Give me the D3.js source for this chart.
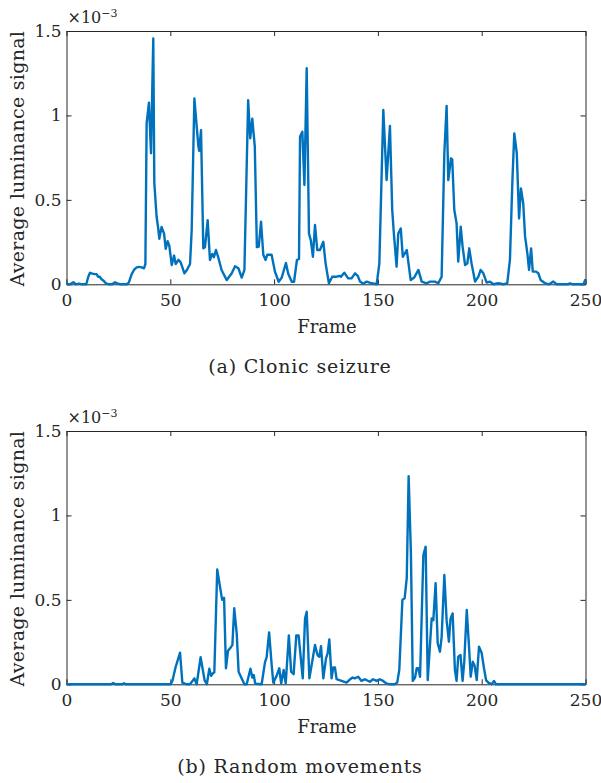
<!DOCTYPE html>
<html>
<head>
<meta charset="utf-8">
<script src="https://cdn.jsdelivr.net/npm/d3@7/dist/d3.min.js"></script>
<style>
  body { margin: 0; background: #fff; }
  svg text { font-family: "DejaVu Serif", serif; fill: #262626; }
</style>
</head>
<body>
<svg id="chart" width="601" height="783"></svg>
<script>
// Frame axis and value axis (values are in units of 1e-3)
var xTicks = [0, 50, 100, 150, 200, 250];
var yTicks = [0, 0.5, 1, 1.5];
var yTickLabels = ["0", "0.5", "1", "1.5"];

// (a) Clonic seizure
var clonicFrames = [0, 1, 2, 3.3, 4.5, 6, 7.5, 9.5, 10.5, 11.3, 12.5, 13.5, 14.5, 15.2, 16, 16.9, 18, 19, 20.5, 22, 23.4, 24.5, 26, 29, 30, 31.4, 32.5, 33.8, 35, 36.2, 37.3, 38, 38.6, 39.7, 40.7, 41.8, 42.3, 43.4, 44.2, 44.7, 45.8, 47, 47.8, 48.7, 49.5, 50.7, 51.8, 52.6, 53.9, 55, 56.8, 58, 59.5, 60.3, 61.6, 63.5, 63.9, 64.8, 65.9, 66.7, 68, 69.1, 70.2, 71, 72, 73.1, 74.7, 77.2, 79.6, 81.2, 82.8, 84.4, 85.7, 87.5, 88.5, 89.5, 90.7, 91.7, 92.6, 93.7, 94.8, 95.9, 96.7, 98.8, 100.4, 102.2, 103.7, 105.7, 106.8, 108.5, 109.6, 111, 112, 112.5, 113.6, 114.6, 115.7, 116.8, 117.7, 118.7, 119.7, 120.8, 122.1, 123.7, 124.8, 126.4, 128, 130.1, 131.7, 132.2, 133.8, 135.7, 137.3, 139, 140.3, 141.4, 143, 144.6, 147, 149.4, 150.7, 152.6, 154.2, 155.8, 156.9, 157.7, 159, 159.8, 161, 162, 163.9, 165.8, 167.5, 169.5, 171.1, 173.5, 175.1, 177.5, 179.1, 180.7, 182, 183.1, 183.9, 185.2, 185.8, 186.8, 187.9, 188.7, 189.9, 190.8, 192, 193.1, 194, 195.1, 196.8, 198.4, 199.5, 200.8, 202.4, 204, 205.6, 208, 210.4, 212.3, 213.6, 214.8, 215.7, 216.9, 218, 218.9, 220, 220.9, 222, 222.8, 223.8, 224.6, 226.2, 227.3, 228.4, 230.5, 232.5, 234.5, 236.1, 241.7, 242.5, 244, 249, 250];
var clonicValues = [0.005, 0, 0.003, 0.012, 0, 0.004, 0, 0, 0.045, 0.068, 0.063, 0.06, 0.06, 0.045, 0.045, 0.03, 0.02, 0.005, 0, 0, 0.012, 0.005, 0, 0, 0.01, 0.06, 0.085, 0.1, 0.103, 0.1, 0.095, 0.12, 0.953, 1.075, 0.776, 1.456, 0.6, 0.4, 0.33, 0.27, 0.34, 0.3, 0.21, 0.255, 0.23, 0.114, 0.17, 0.12, 0.145, 0.13, 0.065, 0.085, 0.12, 0.32, 1.1, 0.82, 0.79, 0.913, 0.213, 0.22, 0.38, 0.144, 0.18, 0.16, 0.203, 0.16, 0.085, 0.025, 0.065, 0.107, 0.095, 0.04, 0.085, 1.09, 0.864, 0.98, 0.815, 0.22, 0.223, 0.37, 0.175, 0.144, 0.175, 0.175, 0.075, 0.015, 0.04, 0.126, 0.062, 0.015, 0.015, 0.144, 0.15, 0.874, 0.904, 0.588, 1.279, 0.3, 0.26, 0.163, 0.351, 0.203, 0.203, 0.252, 0.124, 0.006, 0.045, 0.045, 0.05, 0.045, 0.069, 0.035, 0.035, 0.065, 0.05, 0.016, 0.003, 0.016, 0.006, 0, 0.124, 1.032, 0.617, 0.937, 0.44, 0.3, 0.104, 0.3, 0.331, 0.163, 0.203, 0.025, 0.04, 0.085, 0.016, 0.006, 0.016, 0.016, 0.006, 0.045, 0.776, 1.056, 0.617, 0.746, 0.74, 0.44, 0.361, 0.134, 0.341, 0.223, 0.114, 0.124, 0.213, 0.124, 0.016, 0.045, 0.085, 0.065, 0.01, 0.016, 0, 0.006, 0, 0.006, 0.144, 0.617, 0.894, 0.776, 0.39, 0.568, 0.48, 0.282, 0.183, 0.085, 0.213, 0.075, 0.075, 0.065, 0.025, 0.006, 0, 0.016, 0, 0, 0.006, 0, 0, 0.03];

// (b) Random movements
var randomFrames = [0, 21.5, 22.5, 23.5, 27, 27.7, 28.5, 50.2, 51, 52.6, 54.7, 55.8, 57.9, 59.5, 61.6, 62.7, 64.6, 66.5, 67.6, 68.8, 69.7, 70.5, 71.2, 72.6, 74.3, 75, 75.9, 76.8, 77.8, 79.2, 79.9, 80.8, 82, 82.9, 84.4, 85.7, 86.8, 88.6, 89.5, 90.2, 90.9, 94, 95.6, 96.4, 97.6, 98.8, 99.6, 101.2, 102.5, 103.4, 104.6, 105.6, 107.1, 108.2, 109.4, 110.7, 111.8, 113.8, 114.9, 115.7, 117, 119.7, 120.9, 121.8, 122.6, 123.7, 125, 125.8, 126.6, 127.7, 128.5, 129.3, 130.1, 132.5, 134.9, 136.2, 137.8, 138.9, 140.5, 142.1, 143.7, 146.1, 147.7, 149.3, 150.9, 152.5, 154.1, 155.7, 158.1, 159.3, 160.3, 161.8, 162.9, 163.9, 164.8, 165.9, 166.8, 167.9, 168.7, 169.5, 170.3, 171.9, 173, 174, 175.9, 176.7, 177.8, 178.8, 179.9, 180.7, 182, 183.1, 184.2, 185, 186, 187.1, 187.9, 188.7, 189.8, 190.8, 191.6, 192.8, 193.9, 194.7, 195.7, 196.6, 197.6, 198.7, 200, 201.1, 202.1, 203.2, 204.8, 205.9, 206.9, 250];
var randomValues = [0, 0, 0.008, 0, 0, 0.006, 0, 0, 0.02, 0.104, 0.187, 0.01, 0, 0, 0.035, 0, 0.16, 0.025, 0, 0.092, 0.05, 0.065, 0.07, 0.68, 0.55, 0.5, 0.512, 0.095, 0.198, 0.22, 0.232, 0.45, 0.3, 0.075, 0.035, 0, 0, 0.092, 0.04, 0.055, 0.003, 0, 0.13, 0.16, 0.307, 0.12, 0.01, 0.05, 0.095, 0.005, 0.085, 0.005, 0.29, 0.075, 0.06, 0.29, 0.29, 0.035, 0.39, 0.43, 0.035, 0.233, 0.173, 0.163, 0.226, 0.035, 0.154, 0.183, 0.266, 0.035, 0.1, 0.1, 0.03, 0.02, 0.01, 0.025, 0.04, 0.035, 0.045, 0.02, 0.03, 0.015, 0.03, 0.02, 0.03, 0.02, 0.005, 0, 0, 0.01, 0.085, 0.5, 0.51, 0.63, 1.233, 0.776, 0.02, 0.04, 0.095, 0.095, 0.045, 0.766, 0.815, 0.025, 0.39, 0.38, 0.598, 0.243, 0.193, 0.28, 0.647, 0.38, 0.252, 0.39, 0.42, 0.085, 0.02, 0.163, 0.173, 0.02, 0.134, 0.44, 0.222, 0.045, 0.134, 0.11, 0.025, 0.223, 0.185, 0.095, 0.025, 0.01, 0, 0.02, 0, 0];

(function() {
  var svg = d3.select("#chart");
  var LINE_COLOR = "#0072BD";
  var AXIS_COLOR = "#262626";

  var left = 66.5, right = 585.5;
  var x = d3.scaleLinear().domain([0, 250]).range([left, right]);

  var drawPanel = function(frames, values, top, bottom, caption) {
    var y = d3.scaleLinear().domain([0, 1.5]).range([bottom, top]);
    var g = svg.append("g");

    // Axes (MATLAB style box, ticks pointing inwards)
    var bottomAxis = d3.axisBottom(x).tickValues(xTicks).tickSizeInner(-5).tickSizeOuter(0).tickPadding(10);
    var topAxis = d3.axisTop(x).tickValues(xTicks).tickSizeInner(-5).tickSizeOuter(0).tickFormat("");
    var leftAxis = d3.axisLeft(y).tickValues(yTicks).tickSizeInner(-5).tickSizeOuter(0).tickPadding(5)
      .tickFormat(function(d, i) { return yTickLabels[i]; });
    var rightAxis = d3.axisRight(y).tickValues(yTicks).tickSizeInner(-5).tickSizeOuter(0).tickFormat("");

    var axes = [
      [bottomAxis, "translate(0," + bottom + ")"],
      [topAxis, "translate(0," + top + ")"],
      [leftAxis, "translate(" + left + ",0)"],
      [rightAxis, "translate(" + right + ",0)"]
    ];
    axes.forEach(function(a) {
      var ax = g.append("g").attr("transform", a[1]).call(a[0]);
      ax.select(".domain").attr("stroke", AXIS_COLOR).attr("stroke-width", 1);
      ax.selectAll(".tick line").attr("stroke", AXIS_COLOR).attr("stroke-width", 1);
      ax.selectAll(".tick text")
        .attr("font-family", "DejaVu Serif")
        .attr("font-size", 17)
        .attr("fill", AXIS_COLOR);
    });

    // Signal line
    var pts = frames.map(function(f, i) { return [f, values[i]]; });
    var line = d3.line()
      .x(function(d) { return x(d[0]); })
      .y(function(d) { return y(d[1]); });
    g.append("path")
      .datum(pts)
      .attr("fill", "none")
      .attr("stroke", LINE_COLOR)
      .attr("stroke-width", 2.4)
      .attr("stroke-linejoin", "round")
      .attr("d", line);

    // Exponent label
    var ex = g.append("text")
      .attr("x", left + 1)
      .attr("y", top - 8)
      .attr("font-size", 16);
    ex.append("tspan").text("\u00d710");
    ex.append("tspan").attr("dy", -6).attr("font-size", 11).text("\u22123");

    // Axis titles
    g.append("text")
      .attr("x", (left + right) / 2 + 1)
      .attr("y", bottom + 49)
      .attr("text-anchor", "middle")
      .attr("font-size", 18)
      .text("Frame");

    g.append("text")
      .attr("transform", "translate(24," + ((top + bottom) / 2 + 1) + ") rotate(-90)")
      .attr("text-anchor", "middle")
      .attr("font-size", 19)
      .attr("letter-spacing", 0.3)
      .text("Average luminance signal");

    // Caption
    g.append("text")
      .attr("x", 300)
      .attr("y", bottom + 89)
      .attr("text-anchor", "middle")
      .attr("font-size", 19)
      .attr("letter-spacing", 0.8)
      .attr("fill", "#000")
      .text(caption);
  };

  drawPanel(clonicFrames, clonicValues, 31, 284.3, "(a)  Clonic seizure");
  drawPanel(randomFrames, randomValues, 431, 684.3, "(b)  Random movements");
}());
</script>
</body>
</html>
